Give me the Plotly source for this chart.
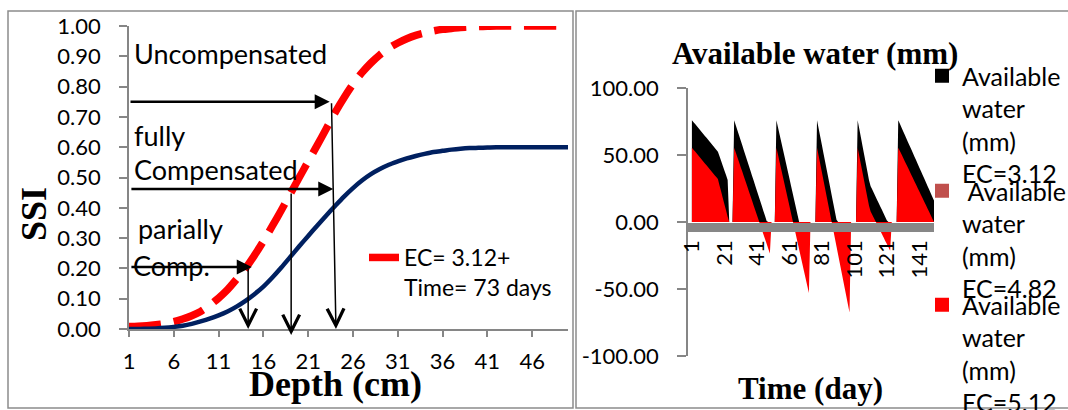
import plotly.graph_objects as go

W, H = 1068, 410

# ---------------- data: left chart (SSI vs depth) ----------------
depth = list(range(1, 51))
depth_ticks = [1, 6, 11, 16, 21, 26, 31, 36, 41, 46]
ssi_ticks = [0.0, 0.1, 0.2, 0.3, 0.4, 0.5, 0.6, 0.7, 0.8, 0.9, 1.0]

ssi_ec312 = [0.000, 0.000, 0.001, 0.002, 0.004, 0.007, 0.011, 0.017, 0.025, 0.034,
             0.045, 0.058, 0.074, 0.093, 0.115, 0.140, 0.170, 0.203, 0.238, 0.273,
             0.307, 0.341, 0.374, 0.406, 0.437, 0.465, 0.490, 0.511, 0.528, 0.542,
             0.553, 0.563, 0.571, 0.578, 0.584, 0.588, 0.592, 0.595, 0.597, 0.598,
             0.599, 0.600, 0.600, 0.600, 0.600, 0.600, 0.600, 0.600, 0.600, 0.600]

ssi_ec312_73d = [0.008, 0.009, 0.011, 0.014, 0.018, 0.024, 0.033, 0.044, 0.058, 0.078,
                 0.102, 0.130, 0.164, 0.200, 0.243, 0.290, 0.340, 0.392, 0.446, 0.500,
                 0.553, 0.606, 0.660, 0.714, 0.763, 0.808, 0.846, 0.878, 0.905, 0.927,
                 0.944, 0.958, 0.969, 0.977, 0.984, 0.989, 0.992, 0.995, 0.997, 0.998,
                 0.999, 1.000, 1.000, 1.000, 1.000, 1.000, 1.000, 1.000, 1.000, 1.000]

# arrows drawn on the left chart: (tail_x, tail_y, head_x, head_y)
arrows_h = [(1.0, 0.75, 23.4, 0.75), (1.1, 0.462, 23.8, 0.462), (1.1, 0.205, 14.7, 0.205)]
arrows_v = [(23.6, 0.75, 24.1, 0.0), (19.1, 0.452, 19.1, -0.02), (14.3, 0.205, 14.3, 0.0)]

# ---------------- data: right chart (available water vs time) ----------------
days = list(range(1, 151))
day_ticks = [1, 21, 41, 61, 81, 101, 121, 141]
aw_ticks = [-100, -50, 0, 50, 100]
aw_ticktext = ["-100.00", "-50.00", "0.00", "50.00", "100.00"]

aw_ec312 = [76.0, 74.5, 73.1, 71.6, 70.1, 68.7, 67.2, 65.7, 64.2, 62.8, 61.3, 59.8, 58.4,
            56.9, 55.4, 54.0, 52.5, 49.0, 45.5, 42.0, 38.5, 35.0, 31.3, 0.0, 0.0, 0.0,
            76.0, 72.2, 68.5, 64.7, 61.0, 57.2, 53.4, 49.7, 45.9, 42.2, 38.4, 34.6, 30.9,
            27.1, 23.4, 19.6, 15.8, 12.1, 8.3, 4.6, 0.8, 0.0, 0.0, 0.0, 0.0, 0.0,
            76.0, 70.6, 65.1, 59.7, 54.3, 48.9, 43.4, 38.0, 32.6, 27.1, 21.7, 16.3, 10.9,
            5.4, 0.0, 0.0, 0.0, 0.0, 0.0, 0.0, 0.0, 0.0, 0.0, 0.0, 0.0,
            76.0, 69.8, 63.6, 57.4, 51.2, 45.0, 38.8, 32.6, 26.4, 20.2, 14.0, 7.8, 1.6,
            0.0, 0.0, 0.0, 0.0, 0.0, 0.0, 0.0, 0.0, 0.0, 0.0, 0.0, 0.0,
            76.0, 69.6, 63.2, 56.8, 50.4, 44.0, 37.6, 31.2, 26.7, 24.2, 21.6, 19.1, 16.5,
            14.0, 11.4, 8.9, 6.3, 3.8, 1.2, 0.0, 0.0, 0.0, 0.0, 0.0, 0.0,
            76.0, 73.3, 70.5, 67.8, 65.1, 62.4, 59.6, 56.9, 54.2, 51.5, 48.7, 46.0, 43.3,
            40.5, 37.8, 35.1, 32.4, 29.6, 26.9, 24.2, 21.5, 18.7, 16.0]

aw_ec482 = []  # series listed in the legend, not visible in the picture

aw_ec512 = [55.5, 54.0, 52.6, 51.1, 49.6, 48.2, 46.7, 45.2, 43.7, 42.3, 40.8, 39.3, 37.9,
            36.4, 34.9, 33.5, 32.0, 27.3, 22.7, 18.0, 13.3, 8.7, 4.0, 0.0, 0.0, 0.0,
            55.5, 51.9, 48.3, 44.7, 41.1, 37.6, 34.0, 30.4, 26.8, 23.2, 19.6, 16.0, 12.4,
            8.8, 5.2, 1.6, -2.0, -5.6, -9.1, -12.7, -16.3, -19.9, -23.5, 0.0, 0.0, 0.0,
            55.5, 50.1, 44.6, 39.2, 33.8, 28.4, 22.9, 17.5, 12.1, 6.6, 1.2, -4.2, -9.6,
            -15.1, -20.5, -25.9, -31.3, -36.8, -42.2, -47.6, -53.0, 0.0, 0.0, 0.0, 0.0,
            55.5, 49.4, 43.2, 37.1, 30.9, 24.8, 18.6, 12.5, 6.3, 0.2, -6.0, -12.1, -18.3,
            -24.4, -30.6, -36.7, -42.9, -49.0, -55.2, -61.3, -67.5, 0.0, 0.0, 0.0, 0.0,
            55.5, 49.3, 43.1, 36.9, 30.7, 24.5, 18.3, 12.1, 7.8, 5.4, 2.9, 0.5, -1.9,
            -4.4, -6.8, -9.2, -11.6, -14.1, -16.5, -18.9, -21.4, 0.0, 0.0, 0.0, 0.0,
            55.5, 53.0, 50.5, 47.9, 45.4, 42.9, 40.4, 37.8, 35.3, 32.8, 30.3, 27.8, 25.2,
            22.7, 20.2, 17.7, 15.1, 12.6, 10.1, 7.6, 5.0, 2.5, 0.0]

legend_names = ["Available<br>water<br>(mm)<br>EC=3.12",
                " Available<br>water<br>(mm)<br>EC=4.82",
                "Available<br>water<br>(mm)<br>EC=5.12"]
legend_colors = ["#000000", "#C0504D", "#FF0000"]

# ---------------- styling helpers ----------------
GRAY = "#868686"
SANS = "Lato"
SERIF = "Liberation Serif"


def px(x):
    return x / W


def py(y):
    return 1 - y / H


fig = go.Figure()

# left chart
fig.add_trace(go.Scatter(x=depth, y=ssi_ec312_73d, mode="lines",
                         line=dict(color="#FF0000", width=7.5, dash="32px,13px",
                                   shape="spline", smoothing=0.8),
                         name="EC= 3.12+<br>Time= 73 days", legend="legend",
                         cliponaxis=False, xaxis="x", yaxis="y"))
fig.add_trace(go.Scatter(x=depth, y=ssi_ec312, mode="lines",
                         line=dict(color="#002060", width=4.5, shape="spline",
                                   smoothing=0.8),
                         showlegend=False, cliponaxis=False, xaxis="x", yaxis="y"))

# right chart areas
fig.add_trace(go.Scatter(x=days, y=aw_ec312, mode="none", fill="tozeroy",
                         fillcolor="#000000", showlegend=False,
                         xaxis="x2", yaxis="y2"))
fig.add_trace(go.Scatter(x=days[:len(aw_ec482)], y=aw_ec482, mode="none",
                         fill="tozeroy", fillcolor="#C0504D", showlegend=False,
                         xaxis="x2", yaxis="y2"))
fig.add_trace(go.Scatter(x=days, y=aw_ec512, mode="none", fill="tozeroy",
                         fillcolor="#FF0000", showlegend=False,
                         xaxis="x2", yaxis="y2"))

# right chart legend entries
for i, (nm, col) in enumerate(zip(legend_names, legend_colors)):
    fig.add_trace(go.Scatter(x=[None], y=[None], mode="markers",
                             marker=dict(symbol="square", size=14, color=col),
                             name=nm, legend=f"legend{i + 2}",
                             xaxis="x2", yaxis="y2"))

tickfont = dict(family=SANS, size=22, color="black")
axis_common = dict(showgrid=False, zeroline=False, showline=True, linecolor=GRAY,
                   linewidth=1.5, ticks="outside", tickcolor=GRAY, tickwidth=1.5,
                   tickfont=tickfont)

annotations = []
# text labels in left chart
for txt, x, y in [("Uncompensated", 132, 53), ("fully", 132, 135),
                  ("Compensated", 132, 170), (" parially", 129, 228),
                  ("Comp.", 131, 265)]:
    annotations.append(dict(text=txt, x=px(x), y=py(y), xref="paper", yref="paper",
                            xanchor="left", yanchor="middle", showarrow=False,
                            font=dict(family=SANS, size=27, color="black")))

for (tx, ty, hx, hy) in arrows_h:
    annotations.append(dict(x=hx, y=hy, ax=tx, ay=ty, xref="x", yref="y",
                            axref="x", ayref="y", text="", showarrow=True,
                            arrowhead=2, arrowsize=1.2, arrowwidth=2.5,
                            arrowcolor="black", standoff=0, startstandoff=0))
for (tx, ty, hx, hy) in arrows_v:
    annotations.append(dict(x=hx, y=hy, ax=tx, ay=ty, xref="x", yref="y",
                            axref="x", ayref="y", text="", showarrow=True,
                            arrowhead=5, arrowsize=2.2, arrowwidth=1.5,
                            arrowcolor="black", standoff=0, startstandoff=0))

# titles
annotations += [
    dict(text="<b>SSI</b>", x=px(34), y=py(214), xref="paper", yref="paper",
         textangle=-90, showarrow=False, xanchor="center", yanchor="middle",
         font=dict(family=SERIF, size=36, color="black")),
    dict(text="<b>Depth (cm)</b>", x=px(335), y=py(384), xref="paper", yref="paper",
         showarrow=False, xanchor="center", yanchor="middle",
         font=dict(family=SERIF, size=36, color="black")),
    dict(text="<b>Available water (mm)</b>", x=px(815), y=py(53), xref="paper",
         yref="paper", showarrow=False, xanchor="center", yanchor="middle",
         font=dict(family=SERIF, size=31, color="black")),
    dict(text="<b>Time (day)</b>", x=px(810), y=py(388), xref="paper", yref="paper",
         showarrow=False, xanchor="center", yanchor="middle",
         font=dict(family=SERIF, size=31, color="black")),
]

shapes = [
    dict(type="rect", xref="paper", yref="paper", x0=px(8), x1=px(573),
         y0=py(408), y1=py(11), line=dict(color="#8c8c8c", width=1.5)),
    dict(type="rect", xref="paper", yref="paper", x0=px(576), x1=px(1080),
         y0=py(408), y1=py(11), line=dict(color="#8c8c8c", width=1.5)),
]

legend_common = dict(xanchor="left", yanchor="top", valign="top",
                     bgcolor="rgba(0,0,0,0)", borderwidth=0, tracegroupgap=0,
                     itemwidth=30)
legend_font = dict(family=SANS, size=25, color="black")

fig.update_layout(
    width=W, height=H, margin=dict(l=0, r=0, t=0, b=0, autoexpand=False),
    paper_bgcolor="white", plot_bgcolor="white",
    xaxis=dict(domain=[px(129), px(568)], range=[1, 50], tickvals=depth_ticks,
               ticklen=6, anchor="y", ticklabelstandoff=6, **axis_common),
    yaxis=dict(domain=[py(329), py(26)], range=[0, 1], tickvals=ssi_ticks,
               tickformat=".2f", ticklen=8, anchor="x", ticklabelstandoff=14,
               **axis_common),
    xaxis2=dict(domain=[px(688), px(934)], range=[-1.4, 150], tickvals=day_ticks,
                tickangle=-90, anchor="free", position=py(226.5), showgrid=False,
                zeroline=False, showline=True, linecolor="#878787", linewidth=9,
                ticks="", tickfont=tickfont),
    yaxis2=dict(domain=[py(356), py(88)], range=[-100, 100], tickvals=aw_ticks,
                ticktext=aw_ticktext, ticklen=9, anchor="x2", ticklabelstandoff=14,
                **axis_common),
    legend=dict(x=px(364), y=py(236), font=dict(family=SANS, size=23, color="black"),
                **legend_common),
    legend2=dict(x=px(922), y=py(53), font=legend_font, **legend_common),
    legend3=dict(x=px(922), y=py(168), font=legend_font, **legend_common),
    legend4=dict(x=px(922), y=py(282), font=legend_font, **legend_common),
    annotations=annotations,
    shapes=shapes,
)

fig.write_html("out.html", config={"displayModeBar": False},
               post_script="document.body.style.margin='0';")
